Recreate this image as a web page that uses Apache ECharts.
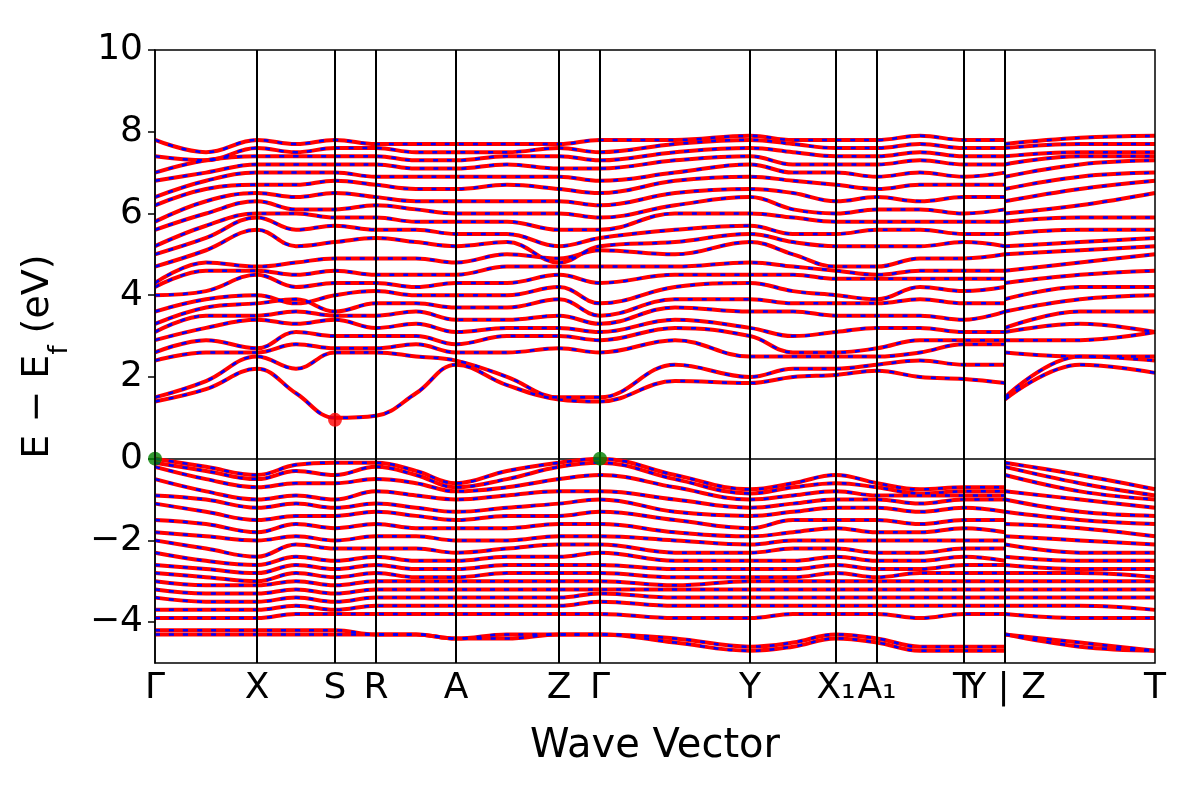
<!DOCTYPE html>
<html>
<head>
<meta charset="utf-8">
<script src="https://cdn.jsdelivr.net/npm/echarts@6/dist/echarts.min.js"></script>
<style>html,body{margin:0;padding:0;background:#fff}#chart{width:1200px;height:800px}</style>
</head>
<body>
<div id="chart"></div>
<script>
// k-path positions (distance units along path) and their labels
const tickPos = [0, 102, 180, 221, 301, 404, 445, 595, 681, 722, 809, 850, 1000];
const tickLabels = ['Γ', 'X', 'S', 'R', 'A', 'Z', 'Γ', 'Y', 'X₁', 'A₁', 'T', 'Y | Z', 'T'];

// sampled k positions: first path segment (Γ ... Y) and second (Z - T)
const kA = [0, 51, 102, 141, 180, 221, 261, 301, 352, 404, 445, 520, 595, 638, 681, 722, 765, 809, 850];
const kB = [850, 925, 1000];

const condA = [
  [1.4,1.7,2.2,1.6,1.0,1.05,1.6,2.3,1.8,1.45,1.4,1.9,1.85,2.0,2.05,2.15,2.0,1.95,1.85],
  [1.5,1.9,2.5,2.2,2.6,2.6,2.5,2.4,2.0,1.5,1.5,2.3,2.0,2.2,2.2,2.3,2.4,2.3,2.3],
  [2.4,2.6,2.6,2.8,2.7,2.7,2.8,2.6,2.6,2.7,2.6,2.9,2.5,2.5,2.5,2.5,2.6,2.8,2.8],
  [2.6,2.9,2.7,3.1,3.0,3.0,3.0,2.8,3.0,3.0,2.9,3.2,3.0,2.6,2.6,2.7,2.9,2.9,2.9],
  [2.9,3.2,3.4,3.3,3.4,3.2,3.3,3.1,3.2,3.2,3.1,3.4,3.2,3.0,3.1,3.2,3.2,3.1,3.1],
  [3.1,3.5,3.5,3.6,3.5,3.5,3.6,3.4,3.4,3.5,3.3,3.7,3.6,3.6,3.5,3.5,3.5,3.4,3.6],
  [3.3,3.7,3.8,3.9,3.6,3.8,3.8,3.7,3.7,3.9,3.5,3.9,3.9,3.8,3.8,3.8,3.9,3.8,3.8],
  [3.6,3.9,4.0,3.8,4.0,4.1,4.0,4.0,4.0,4.2,3.8,4.2,4.3,4.1,4.0,3.9,4.2,4.1,4.2],
  [4.0,4.1,4.5,4.2,4.3,4.3,4.2,4.3,4.3,4.5,4.3,4.5,4.5,4.5,4.4,4.4,4.4,4.4,4.4],
  [4.2,4.6,4.6,4.5,4.6,4.5,4.5,4.5,4.7,4.7,4.7,4.7,4.8,4.7,4.6,4.5,4.6,4.6,4.6],
  [4.3,4.8,4.7,4.8,4.9,4.9,4.9,4.8,5.0,4.9,5.1,5.0,5.3,5.0,4.7,4.7,4.9,4.9,5.0],
  [4.7,5.1,5.6,5.2,5.3,5.4,5.3,5.2,5.3,4.8,5.2,5.3,5.5,5.3,5.2,5.2,5.2,5.3,5.2],
  [5.0,5.4,5.9,5.6,5.7,5.6,5.6,5.5,5.5,5.2,5.4,5.6,5.7,5.5,5.5,5.6,5.6,5.5,5.5],
  [5.2,5.7,6.0,6.0,5.9,5.9,5.8,5.8,5.8,5.6,5.6,6.0,6.0,5.9,5.8,5.8,5.8,5.8,5.8],
  [5.6,6.0,6.3,6.1,6.1,6.2,6.1,6.0,6.0,6.0,5.9,6.2,6.4,6.1,6.0,6.1,6.1,6.0,6.1],
  [5.8,6.3,6.5,6.4,6.5,6.4,6.3,6.3,6.3,6.3,6.2,6.5,6.6,6.5,6.3,6.4,6.3,6.4,6.4],
  [6.2,6.6,6.7,6.7,6.8,6.7,6.6,6.6,6.7,6.6,6.5,6.8,6.9,6.8,6.7,6.6,6.7,6.7,6.7],
  [6.4,6.8,7.0,7.0,7.0,6.9,6.9,6.9,6.9,6.9,6.8,7.0,7.2,7.0,7.0,6.9,7.0,6.9,7.0],
  [6.8,7.0,7.2,7.2,7.2,7.2,7.1,7.1,7.2,7.1,7.1,7.3,7.4,7.2,7.2,7.2,7.3,7.2,7.2],
  [7.0,7.3,7.4,7.4,7.4,7.4,7.3,7.3,7.4,7.4,7.3,7.5,7.6,7.5,7.4,7.4,7.5,7.4,7.4],
  [7.4,7.3,7.6,7.5,7.6,7.6,7.5,7.5,7.5,7.6,7.5,7.7,7.8,7.7,7.6,7.6,7.7,7.6,7.6],
  [7.8,7.5,7.8,7.7,7.8,7.7,7.7,7.7,7.7,7.7,7.8,7.8,7.9,7.8,7.8,7.8,7.9,7.8,7.8]
];
const condB = [
  [1.45,2.3,2.1],[1.5,2.5,2.4],[2.6,2.5,2.5],[2.9,2.9,3.1],[3.1,3.3,3.1],[3.2,3.6,3.6],
  [3.6,3.9,4.0],[3.9,4.2,4.2],[4.3,4.5,4.6],[4.6,4.8,5.0],[5.0,5.1,5.2],[5.2,5.3,5.4],
  [5.5,5.6,5.6],[5.8,5.9,5.9],[6.0,6.2,6.5],[6.3,6.6,6.8],[6.6,6.9,7.0],[6.9,7.2,7.3],
  [7.2,7.4,7.4],[7.4,7.5,7.5],[7.6,7.7,7.7],[7.7,7.85,7.9]
];
const valA = [
  [0,-0.2,-0.4,-0.15,-0.1,-0.1,-0.3,-0.6,-0.3,-0.1,0,-0.4,-0.75,-0.6,-0.4,-0.6,-0.75,-0.7,-0.7],
  [-0.1,-0.3,-0.5,-0.3,-0.4,-0.2,-0.4,-0.7,-0.5,-0.2,-0.1,-0.5,-0.85,-0.7,-0.6,-0.7,-0.85,-0.8,-0.8],
  [-0.2,-0.5,-0.7,-0.6,-0.6,-0.5,-0.6,-0.8,-0.7,-0.5,-0.4,-0.7,-1.0,-0.9,-0.8,-0.9,-0.9,-0.9,-0.9],
  [-0.5,-0.8,-1.0,-0.9,-1.0,-0.8,-0.9,-1.0,-0.9,-0.8,-0.8,-1.0,-1.2,-1.1,-1.0,-1.0,-1.1,-1.0,-1.0],
  [-0.9,-1.0,-1.2,-1.1,-1.2,-1.1,-1.2,-1.3,-1.2,-1.1,-1.0,-1.3,-1.4,-1.3,-1.2,-1.2,-1.3,-1.2,-1.3],
  [-1.1,-1.3,-1.5,-1.4,-1.4,-1.3,-1.4,-1.5,-1.4,-1.4,-1.3,-1.5,-1.7,-1.5,-1.5,-1.5,-1.6,-1.5,-1.5],
  [-1.5,-1.6,-1.8,-1.6,-1.7,-1.6,-1.7,-1.7,-1.7,-1.6,-1.6,-1.8,-1.9,-1.8,-1.7,-1.8,-1.8,-1.7,-1.8],
  [-1.8,-1.9,-2.0,-1.9,-2.0,-1.9,-1.9,-2.0,-2.0,-1.9,-1.9,-2.0,-2.1,-2.0,-2.0,-2.0,-2.0,-2.0,-2.0],
  [-2.0,-2.2,-2.4,-2.1,-2.2,-2.2,-2.2,-2.3,-2.2,-2.1,-2.1,-2.3,-2.3,-2.2,-2.2,-2.3,-2.3,-2.2,-2.2],
  [-2.3,-2.5,-2.6,-2.4,-2.5,-2.4,-2.5,-2.5,-2.4,-2.4,-2.3,-2.5,-2.5,-2.5,-2.4,-2.5,-2.5,-2.4,-2.5],
  [-2.6,-2.7,-2.8,-2.6,-2.7,-2.6,-2.7,-2.7,-2.6,-2.6,-2.6,-2.7,-2.7,-2.7,-2.6,-2.7,-2.7,-2.6,-2.6],
  [-2.8,-2.9,-3.0,-2.8,-2.9,-2.8,-2.9,-2.9,-2.8,-2.8,-2.8,-2.9,-2.9,-2.9,-2.8,-2.9,-2.8,-2.8,-2.8],
  [-3.0,-3.1,-3.1,-3.0,-3.1,-3.0,-3.0,-3.0,-3.0,-3.0,-3.0,-3.1,-3.0,-3.0,-3.0,-3.0,-3.0,-3.0,-3.0],
  [-3.2,-3.3,-3.3,-3.2,-3.3,-3.2,-3.2,-3.2,-3.2,-3.2,-3.2,-3.2,-3.2,-3.2,-3.2,-3.2,-3.2,-3.2,-3.2],
  [-3.4,-3.5,-3.5,-3.4,-3.5,-3.4,-3.4,-3.4,-3.4,-3.4,-3.3,-3.4,-3.4,-3.4,-3.4,-3.4,-3.4,-3.4,-3.4],
  [-3.7,-3.7,-3.7,-3.6,-3.7,-3.6,-3.6,-3.6,-3.6,-3.6,-3.5,-3.6,-3.6,-3.6,-3.6,-3.6,-3.6,-3.6,-3.6],
  [-3.9,-3.9,-3.9,-3.8,-3.8,-3.8,-3.8,-3.8,-3.8,-3.8,-3.8,-3.9,-3.9,-3.8,-3.8,-3.8,-3.9,-3.8,-3.8],
  [-4.2,-4.2,-4.2,-4.2,-4.2,-4.3,-4.3,-4.4,-4.3,-4.3,-4.3,-4.4,-4.6,-4.5,-4.3,-4.4,-4.6,-4.6,-4.6],
  [-4.3,-4.3,-4.3,-4.3,-4.3,-4.3,-4.3,-4.4,-4.4,-4.3,-4.3,-4.5,-4.7,-4.6,-4.4,-4.5,-4.7,-4.7,-4.7]
];
const valB = [
  [-0.1,-0.4,-0.75],[-0.2,-0.6,-0.9],[-0.4,-0.8,-1.0],[-0.8,-1.0,-1.2],[-1.0,-1.3,-1.4],
  [-1.3,-1.5,-1.6],[-1.6,-1.7,-1.9],[-1.9,-2.0,-2.1],[-2.1,-2.3,-2.3],[-2.4,-2.5,-2.5],
  [-2.6,-2.7,-2.7],[-2.8,-2.8,-2.9],[-3.0,-3.0,-3.0],[-3.2,-3.2,-3.2],[-3.4,-3.4,-3.4],
  [-3.6,-3.6,-3.7],[-3.8,-3.9,-3.9],[-4.3,-4.5,-4.7],[-4.3,-4.6,-4.7]
];

// band edges: VBM (green) and CBM (red)
const vbm = [[0, 0], [445, 0]];
const cbm = [[180, 0.95]];

const series = [];
function addBand(ks, vals) {
  const data = ks.map((k, i) => [k, vals[i]]);
  series.push({ type: 'line', data: data, smooth: 0.4, symbol: 'none', silent: true,
    lineStyle: { color: '#ff0000', width: 4 }, z: 2 });
  series.push({ type: 'line', data: data, smooth: 0.4, symbol: 'none', silent: true,
    lineStyle: { color: '#0000ff', width: 2.5, type: [5, 9] }, z: 3 });
}
condA.forEach(b => addBand(kA, b));
condB.forEach(b => addBand(kB, b));
valA.forEach(b => addBand(kA, b));
valB.forEach(b => addBand(kB, b));

// vertical lines at high-symmetry points
series.push({
  type: 'line', data: [], silent: true, z: 5,
  markLine: { symbol: 'none', silent: true, label: { show: false },
    lineStyle: { color: '#000', width: 2, type: 'solid' },
    data: tickPos.slice(1, -1).map(p => ({ xAxis: p })) }
});
series.push({ type: 'scatter', data: vbm, symbolSize: 14, itemStyle: { color: '#008000' }, z: 6 });
series.push({ type: 'scatter', data: cbm, symbolSize: 14, itemStyle: { color: '#ff0000' }, z: 6 });

const yTicks = [-4, -2, 0, 2, 4, 6, 8, 10];

const chart = echarts.init(document.getElementById('chart'));
chart.setOption({
  animation: false,
  backgroundColor: '#fff',
  grid: { left: 155, right: 45, top: 50, bottom: 137 },
  xAxis: {
    type: 'value', min: 0, max: 1000,
    name: 'Wave Vector', nameLocation: 'middle', nameGap: 64,
    nameTextStyle: { fontSize: 40, color: '#000', fontFamily: 'DejaVu Sans' },
    axisLine: { lineStyle: { color: '#000', width: 1.5 } },
    axisTick: { show: false },
    splitLine: { show: false },
    axisLabel: {
      customValues: tickPos, fontSize: 36, color: '#000', fontFamily: 'DejaVu Sans', margin: 8,
      formatter: v => tickLabels[tickPos.indexOf(v)] || ''
    }
  },
  yAxis: {
    type: 'value', min: -5, max: 10,
    name: '{a|E − E}{s|f}{a| (eV)}', nameLocation: 'middle', nameGap: 98,
    nameTextStyle: { rich: {
      a: { fontSize: 38, color: '#000', fontFamily: 'DejaVu Sans' },
      s: { fontSize: 26, color: '#000', fontFamily: 'DejaVu Sans', verticalAlign: 'bottom', padding: [0, 0, -16, 0] }
    } },
    axisLine: { show: true, lineStyle: { color: '#000', width: 1.5 } },
    axisTick: { show: true, customValues: yTicks, length: 7, lineStyle: { color: '#000', width: 1.5 } },
    splitLine: { show: false },
    axisLabel: {
      customValues: yTicks, fontSize: 36, color: '#000', fontFamily: 'DejaVu Sans', margin: 12,
      formatter: v => String(v).replace('-', '−')
    }
  },
  series: series
});
// frame on top and right
chart.setOption({ graphic: [{ type: 'rect', shape: { x: 155, y: 50, width: 1000, height: 613 },
  style: { fill: 'none', stroke: '#000', lineWidth: 1.5 }, silent: true, z: 10 }] });
</script>
</body>
</html>
